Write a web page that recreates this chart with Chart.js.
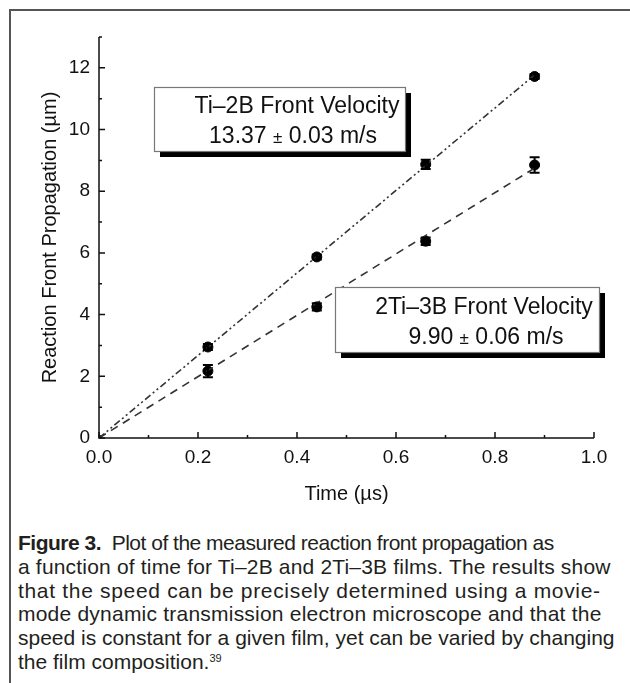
<!DOCTYPE html>
<html>
<head>
<meta charset="utf-8">
<script src="https://cdn.jsdelivr.net/npm/chart.js@4.4.0/dist/chart.umd.min.js"></script>
<style>
    body {
        margin: 0;
        background: #fff;
        width: 630px;
        height: 683px;
        overflow: hidden;
        position: relative;
        font-family: Arial, "Liberation Sans", sans-serif;
    }
    .frame {
        position: absolute;
        left: 9px;
        top: 9px;
        right: -10px;
        bottom: -10px;
        border-left: 2px solid #555;
        border-top: 2px solid #555;
    }
    #chart {
        position: absolute;
        left: 0;
        top: 0;
    }
    .caption {
        position: absolute;
        left: 18px;
        top: 531px;
        font-size: 21px;
        line-height: 23.8px;
        color: #231f20;
        white-space: nowrap;
    }
    .caption div { height: 23.8px; }
    .caption sup {
        font-size: 11px;
        vertical-align: 7px;
        line-height: 0;
    }
</style>
</head>
<body>
<div class="frame"></div>
<canvas id="chart" width="630" height="520"></canvas>
<div class="caption">
    <div style="letter-spacing: -0.5px"><b>Figure 3.</b>&nbsp; Plot of the measured reaction front propagation as</div>
    <div style="letter-spacing: 0.18px">a function of time for Ti–2B and 2Ti–3B films. The results show</div>
    <div style="letter-spacing: 0.68px">that the speed can be precisely determined using a movie-</div>
    <div style="letter-spacing: 0.22px">mode dynamic transmission electron microscope and that the</div>
    <div>speed is constant for a given film, yet can be varied by changing</div>
    <div>the film composition.<sup>39</sup></div>
</div>
<script>
// Measured points (time in µs, front position in µm)
const times = [0.22, 0.44, 0.66, 0.88];
const ti2b = [2.95, 5.87, 8.87, 11.72];
const ti2bErr = [0.10, 0.08, 0.15, 0.08];
const ti3b = [2.17, 4.25, 6.38, 8.85];
const ti3bErr = [0.20, 0.12, 0.12, 0.25];

// Linear fits through the origin
const fitTimes = [0, 0.88];
const ti2bFit = [0, 11.77];
const ti3bFit = [0, 8.75];

// Axis ranges
const xRange = [0, 1.0];
const yRange = [0, 13];

const FONT = 'Arial, "Liberation Sans", sans-serif';

function toPoints(xs, ys) {
    return xs.map((x, i) => ({ x: x, y: ys[i] }));
}

/**
 * Inward tick marks, axis lines, error bars and the two velocity boxes
 */
const plotExtras = {
    id: 'plotExtras',
    afterDatasetsDraw(chart) {
        const { ctx, scales: { x, y } } = chart;
        ctx.save();
        ctx.strokeStyle = '#000';
        ctx.lineWidth = 2;
        [[ti2b, ti2bErr], [ti3b, ti3bErr]].forEach(([vals, errs]) => {
            vals.forEach((v, i) => {
                const px = x.getPixelForValue(times[i]);
                const top = y.getPixelForValue(v + errs[i]);
                const bot = y.getPixelForValue(v - errs[i]);
                ctx.beginPath();
                ctx.moveTo(px, top); ctx.lineTo(px, bot);
                ctx.moveTo(px - 5, top); ctx.lineTo(px + 5, top);
                ctx.moveTo(px - 5, bot); ctx.lineTo(px + 5, bot);
                ctx.stroke();
            });
        });
        ctx.restore();
    },
    afterDraw(chart) {
        const { ctx, chartArea: a, scales: { x, y } } = chart;
        ctx.save();
        ctx.strokeStyle = '#111';
        ctx.lineWidth = 1.5;
        ctx.beginPath();
        ctx.moveTo(a.left, a.top);
        ctx.lineTo(a.left, a.bottom);
        ctx.lineTo(a.right, a.bottom);
        ctx.stroke();

        ctx.beginPath();
        x.ticks.forEach(t => {
            const px = x.getPixelForValue(t.value);
            const len = t.label ? 6 : 3;
            ctx.moveTo(px, a.bottom);
            ctx.lineTo(px, a.bottom - len);
        });
        y.ticks.forEach(t => {
            const py = y.getPixelForValue(t.value);
            const len = t.label ? 6 : 3;
            ctx.moveTo(a.left, py);
            ctx.lineTo(a.left + len, py);
        });
        ctx.stroke();

        drawBox(ctx, 154, 87, 251, 64, [
            { cx: 297, cy: 105, parts: [['Ti–2B Front Velocity', 23]] },
            { cx: 293, cy: 135, parts: [['13.37 ', 23], ['±', 17], [' 0.03 m/s', 23]] }
        ]);
        drawBox(ctx, 335, 287, 264, 65, [
            { cx: 484, cy: 306, parts: [['2Ti–3B Front Velocity', 23]] },
            { cx: 486, cy: 336, parts: [['9.90 ', 23], ['±', 17], [' 0.06 m/s', 23]] }
        ]);
        ctx.restore();
    }
};

function drawBox(ctx, bx, by, bw, bh, lines) {
    // drop shadow
    ctx.fillStyle = '#000';
    ctx.fillRect(bx + 6, by + 6, bw, bh);
    ctx.fillStyle = '#fff';
    ctx.fillRect(bx, by, bw, bh);
    ctx.strokeStyle = '#777';
    ctx.lineWidth = 1.2;
    ctx.strokeRect(bx + 0.5, by + 0.5, bw, bh);

    ctx.fillStyle = '#111';
    ctx.textBaseline = 'alphabetic';
    lines.forEach(line => {
        let total = 0;
        const widths = line.parts.map(([t, size]) => {
            ctx.font = size + 'px ' + FONT;
            const w = ctx.measureText(t).width;
            total += w;
            return w;
        });
        let xx = line.cx - total / 2;
        line.parts.forEach(([t, size], i) => {
            ctx.font = size + 'px ' + FONT;
            ctx.fillText(t, xx, line.cy + 8);
            xx += widths[i];
        });
    });
}

Chart.defaults.font.family = FONT;
Chart.defaults.color = '#111';

new Chart(document.getElementById('chart'), {
    type: 'scatter',
    data: {
        datasets: [{
            label: 'Ti-2B fit',
            data: toPoints(fitTimes, ti2bFit),
            showLine: true,
            borderColor: '#333',
            borderWidth: 1.6,
            borderDash: [7, 3, 2, 3, 2, 3],
            pointStyle: 'rect',
            pointRadius: [3, 0],
            backgroundColor: '#000'
        }, {
            label: '2Ti-3B fit',
            data: toPoints(fitTimes, ti3bFit),
            showLine: true,
            borderColor: '#333',
            borderWidth: 1.6,
            borderDash: [8, 6],
            pointRadius: 0
        }, {
            label: 'Ti-2B',
            data: toPoints(times, ti2b),
            pointStyle: 'circle',
            pointRadius: 5,
            backgroundColor: '#000',
            borderColor: '#000'
        }, {
            label: '2Ti-3B',
            data: toPoints(times, ti3b),
            pointStyle: 'circle',
            pointRadius: 5,
            backgroundColor: '#000',
            borderColor: '#000'
        }]
    },
    options: {
        responsive: false,
        animation: false,
        layout: {
            padding: { top: 37, right: 36, left: 0, bottom: 0 }
        },
        plugins: {
            legend: { display: false },
            tooltip: { enabled: false }
        },
        scales: {
            x: {
                type: 'linear',
                min: xRange[0],
                max: xRange[1],
                grid: { display: false, drawTicks: false },
                border: { display: false },
                ticks: {
                    stepSize: 0.1,
                    padding: 8,
                    maxRotation: 0,
                    autoSkip: false,
                    font: { size: 19 },
                    callback: function(value) {
                        return Math.round(value * 10) % 2 === 0 ? value.toFixed(1) : '';
                    }
                },
                title: {
                    display: true,
                    text: 'Time (µs)',
                    font: { size: 20 },
                    padding: { top: 0, bottom: 14 }
                },
                afterFit: function(scale) {
                    scale.height = 82;
                }
            },
            y: {
                type: 'linear',
                min: yRange[0],
                max: yRange[1],
                grid: { display: false, drawTicks: false },
                border: { display: false },
                ticks: {
                    stepSize: 1,
                    padding: 9,
                    autoSkip: false,
                    font: { size: 19 },
                    callback: function(value) {
                        return value % 2 === 0 ? String(value) : '';
                    }
                },
                title: {
                    display: true,
                    text: 'Reaction Front Propagation (µm)',
                    font: { size: 20 },
                    padding: { top: 38, bottom: 0 }
                },
                afterFit: function(scale) {
                    scale.width = 99;
                }
            }
        }
    },
    plugins: [plotExtras]
});
</script>
</body>
</html>
